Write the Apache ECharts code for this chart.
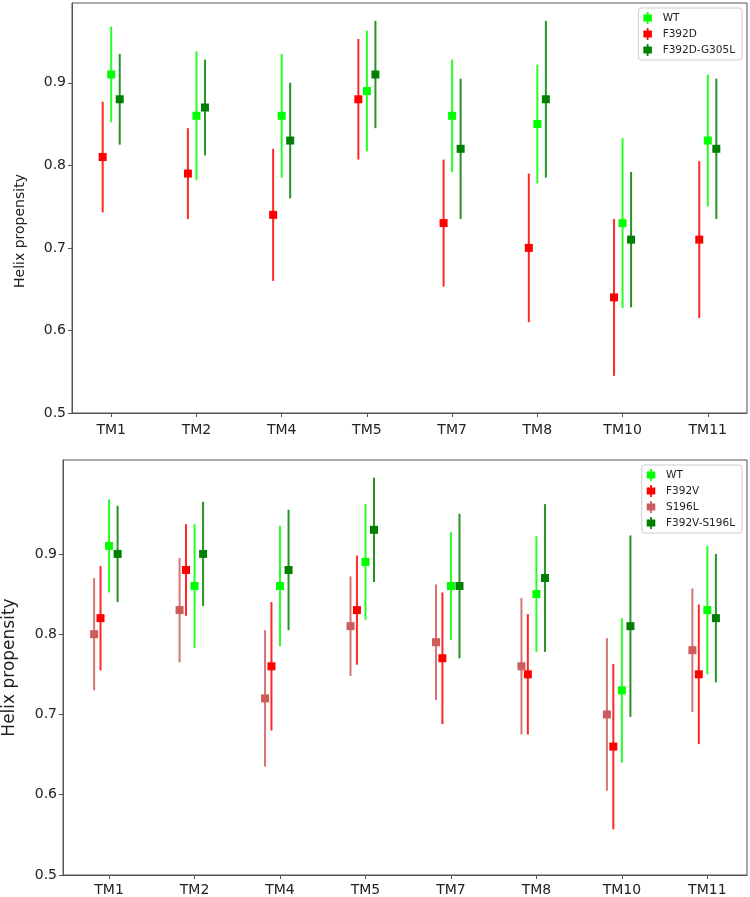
<!DOCTYPE html>
<html>
<head>
<meta charset="utf-8">
<title>Helix propensity</title>
<script src="https://cdn.jsdelivr.net/npm/echarts@6/dist/echarts.min.js"></script>
<style>
  html, body { margin: 0; padding: 0; background: #fff; }
  #main { width: 750px; height: 897px; }
</style>
</head>
<body>
<div id="main"></div>
<script>
// categories
const tms = ['TM1', 'TM2', 'TM4', 'TM5', 'TM7', 'TM8', 'TM10', 'TM11'];
const yTicks = [0.5, 0.6, 0.7, 0.8, 0.9];

// top panel: mean and half error bar
const wtTop = [0.91, 0.86, 0.86, 0.89, 0.86, 0.85, 0.73, 0.83];
const wtTopErr = [0.058, 0.078, 0.075, 0.073, 0.068, 0.072, 0.103, 0.080];
const f392d = [0.81, 0.79, 0.74, 0.88, 0.73, 0.70, 0.64, 0.71];
const f392dErr = [0.067, 0.055, 0.080, 0.073, 0.077, 0.090, 0.095, 0.095];
const f392dG305l = [0.88, 0.87, 0.83, 0.91, 0.82, 0.88, 0.71, 0.82];
const f392dG305lErr = [0.055, 0.058, 0.070, 0.065, 0.085, 0.095, 0.082, 0.085];

// bottom panel
const wtBot = [0.91, 0.86, 0.86, 0.89, 0.86, 0.85, 0.73, 0.83];
const wtBotErr = [0.058, 0.077, 0.075, 0.072, 0.067, 0.072, 0.090, 0.080];
const f392v = [0.82, 0.88, 0.76, 0.83, 0.77, 0.75, 0.66, 0.75];
const f392vErr = [0.065, 0.057, 0.080, 0.068, 0.082, 0.075, 0.103, 0.087];
const s196l = [0.80, 0.83, 0.72, 0.81, 0.79, 0.76, 0.70, 0.78];
const s196lErr = [0.070, 0.065, 0.085, 0.062, 0.072, 0.085, 0.095, 0.077];
const f392vS196l = [0.90, 0.90, 0.88, 0.93, 0.86, 0.87, 0.81, 0.82];
const f392vS196lErr = [0.060, 0.065, 0.075, 0.065, 0.090, 0.092, 0.113, 0.080];

const font = 'DejaVu Sans';
const textColor = '#222';
const frameColor = '#555';
// marker with vertical bar, like matplotlib errorbar handle
const legendIcon = 'path://M4,0H6V3H10V11H6V14H4V11H0V3H4Z';

// error bar: vertical line + square marker
function renderItem(params, api) {
  var x = api.value(0), y = api.value(1), e = api.value(2);
  var c = api.coord([x, y]);
  var hi = api.coord([x, y + e]);
  var lo = api.coord([x, y - e]);
  var color = api.visual('color');
  return {
    type: 'group',
    children: [
      { type: 'line', shape: { x1: c[0], y1: hi[1], x2: c[0], y2: lo[1] },
        style: { stroke: color, lineWidth: 2, opacity: 0.85 } },
      { type: 'rect', shape: { x: c[0] - 4, y: c[1] - 4, width: 8, height: 8 },
        style: { fill: color } }
    ]
  };
}

function errSeries(name, vals, errs, offset, color, idx) {
  return {
    name: name,
    type: 'custom',
    xAxisIndex: idx,
    yAxisIndex: idx,
    itemStyle: { color: color },
    renderItem: renderItem,
    encode: { x: 0, y: 1 },
    data: vals.map(function (v, i) { return [i + offset, v, errs[i]]; })
  };
}

function xAxis(idx, min, max) {
  return {
    type: 'value',
    gridIndex: idx,
    min: min,
    max: max,
    splitLine: { show: false },
    axisLine: { onZero: false, lineStyle: { color: frameColor } },
    axisTick: { length: 4, customValues: tms.map(function (t, i) { return i; }), lineStyle: { color: frameColor } },
    axisLabel: {
      customValues: tms.map(function (t, i) { return i; }),
      formatter: function (v) { return tms[Math.round(v)]; },
      color: textColor, fontFamily: font, fontSize: 14, margin: idx === 0 ? 10 : 8
    }
  };
}

function yAxis(idx, max, nameSize, namePad) {
  return {
    type: 'value',
    gridIndex: idx,
    min: 0.5,
    max: max,
    name: 'Helix propensity',
    nameLocation: 'middle',
    nameGap: 45,
    nameTextStyle: { color: textColor, fontFamily: font, fontSize: nameSize, padding: namePad },
    splitLine: { show: false },
    axisLine: { show: true, onZero: false, lineStyle: { color: frameColor } },
    axisTick: { show: true, length: 4, customValues: yTicks, lineStyle: { color: frameColor } },
    axisLabel: {
      customValues: yTicks,
      formatter: function (v) { return v.toFixed(1); },
      color: textColor, fontFamily: font, fontSize: 14, margin: 6
    }
  };
}

function legend(names, top) {
  return {
    orient: 'vertical',
    right: 8,
    top: top,
    data: names,
    icon: legendIcon,
    itemWidth: 20,
    itemHeight: 12,
    itemGap: 4,
    padding: [4, 7, 4, 5],
    borderColor: '#ccc',
    borderWidth: 1,
    borderRadius: 3,
    textStyle: { color: textColor, fontFamily: font, fontSize: 10.5 }
  };
}

var myChart = echarts.init(document.getElementById('main'));
myChart.setOption({
  animation: false,
  backgroundColor: '#fff',
  grid: [
    { left: 72, top: 3, right: 3, height: 410, show: true, borderColor: frameColor, borderWidth: 1, containLabel: false, outerBoundsMode: 'none' },
    { left: 63, top: 460, right: 3, height: 415, show: true, borderColor: frameColor, borderWidth: 1, containLabel: false, outerBoundsMode: 'none' }
  ],
  xAxis: [xAxis(0, -0.46, 7.46), xAxis(1, -0.539, 7.464)],
  yAxis: [yAxis(0, 0.9966, 14, [0, 46, 0, 0]), yAxis(1, 1.017, 17, 0)],
  legend: [
    legend(['WT', 'F392D', 'F392D-G305L'], 8),
    legend(['WT', 'F392V', 'S196L', 'F392V-S196L'], 465)
  ],
  series: [
    errSeries('F392D', f392d, f392dErr, -0.1, '#ff0000', 0),
    errSeries('WT', wtTop, wtTopErr, 0, '#00ff00', 0),
    errSeries('F392D-G305L', f392dG305l, f392dG305lErr, 0.1, '#008000', 0),
    errSeries('S196L', s196l, s196lErr, -0.175, '#cd5c5c', 1),
    errSeries('F392V', f392v, f392vErr, -0.1, '#ff0000', 1),
    errSeries('WT', wtBot, wtBotErr, 0, '#00ff00', 1),
    errSeries('F392V-S196L', f392vS196l, f392vS196lErr, 0.1, '#008000', 1)
  ]
});
</script>
</body>
</html>
